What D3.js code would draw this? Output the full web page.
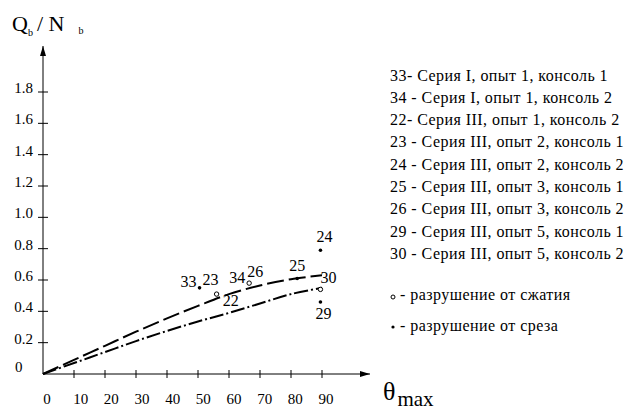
<!DOCTYPE html>
<html>
<head>
<meta charset="utf-8">
<script src="https://cdn.jsdelivr.net/npm/d3@7/dist/d3.min.js"></script>
<style>
  body { margin: 0; background: #fff; }
  svg { display: block; font-family: "Liberation Serif", "DejaVu Serif", serif; }
</style>
</head>
<body>
<script>
// data
var X_TICKS = [0, 10, 20, 30, 40, 50, 60, 70, 80, 90];
var Y_TICKS = [0.2, 0.4, 0.6, 0.8, 1.0, 1.2, 1.4, 1.6, 1.8];

// upper curve (long dash)
var UPPER_THETA = [0, 10, 20, 30, 40, 50, 60, 70, 80, 90];
var UPPER_VAL   = [0, 0.09, 0.18, 0.27, 0.355, 0.435, 0.51, 0.565, 0.605, 0.63];
// lower curve (dash-dot)
var LOWER_THETA = [0, 10, 20, 30, 40, 50, 60, 70, 80, 90];
var LOWER_VAL   = [0, 0.07, 0.14, 0.21, 0.275, 0.335, 0.39, 0.45, 0.51, 0.55];

// test points: id, theta, value, failure type
var PT_ID    = ["33", "23", "34", "25", "30", "29", "24"];
var PT_THETA = [50.5, 56, 66.5, 82, 89.5, 89.5, 89.5];
var PT_VAL   = [0.55, 0.51, 0.58, 0.61, 0.54, 0.46, 0.79];
var PT_TYPE  = ["shear", "comp", "comp", "shear", "comp", "shear", "shear"];

var LEGEND = [
  "33- Серия I, опыт 1, консоль 1",
  "34 - Серия I, опыт 1, консоль 2",
  "22- Серия III, опыт 1, консоль 2",
  "23 - Серия III, опыт 2, консоль 1",
  "24 - Серия III, опыт 2, консоль 2",
  "25 - Серия III, опыт 3, консоль 1",
  "26 - Серия III, опыт 3, консоль 2",
  "29 - Серия III, опыт 5, консоль 1",
  "30 - Серия III, опыт 5, консоль 2"
];
var MARK_LEGEND = ["- разрушение от сжатия", "- разрушение от среза"];

// label placement (pixels, relative to point)
var labelPos = {
  "33": [-3, -1, "end"], "23": [-14, -9, "start"], "34": [-4, 0, "end"],
  "25": [0, -7, "middle"], "30": [8, -6, "middle"], "29": [3, 17, "middle"],
  "24": [4, -8, "middle"]
};
// labels with no own marker
var FREE_LABELS = [["26", 66.5, 0.58, -2, -6], ["22", 58, 0.45, 0, 2]];

var W = 628, H = 411;
var x = d3.scaleLinear().domain([0, 90]).range([43, 322]);
var y = d3.scaleLinear().domain([0, 1.8]).range([374, 92]);

var svg = d3.select("body").append("svg").attr("width", W).attr("height", H);

var defs = svg.append("defs");
defs.append("marker").attr("id", "arr").attr("viewBox", "0 0 10 6")
  .attr("refX", 10).attr("refY", 3).attr("markerWidth", 14).attr("markerHeight", 6)
  .attr("markerUnits", "userSpaceOnUse").attr("orient", "auto")
  .append("path").attr("d", "M0,0 L10,3 L0,6 Z").attr("fill", "#000");

// axes
svg.append("line").attr("x1", x(0)).attr("y1", y(0)).attr("x2", x(0)).attr("y2", 46)
  .attr("stroke", "#000").attr("stroke-width", 1).attr("marker-end", "url(#arr)");
svg.append("line").attr("x1", x(0)).attr("y1", y(0)).attr("x2", 370).attr("y2", y(0))
  .attr("stroke", "#000").attr("stroke-width", 1).attr("marker-end", "url(#arr)");

// y ticks
var yt = svg.append("g").selectAll("g").data(Y_TICKS).enter().append("g");
yt.append("line").attr("x1", x(0) - 5).attr("x2", x(0) + 5)
  .attr("y1", d => y(d)).attr("y2", d => y(d)).attr("stroke", "#000");
yt.append("text").attr("x", 33).attr("y", d => y(d) - 4).attr("text-anchor", "end")
  .attr("dominant-baseline", "central").attr("font-size", 15)
  .text(d => d.toFixed(1));
svg.append("text").attr("x", 15).attr("y", 367).attr("dominant-baseline", "central")
  .attr("font-size", 15).text("0");

// x ticks
var xt = svg.append("g").selectAll("g").data(X_TICKS).enter().append("g");
xt.filter(d => d > 0).append("line").attr("x1", d => x(d)).attr("x2", d => x(d))
  .attr("y1", y(0) - 4).attr("y2", y(0) + 4).attr("stroke", "#000");
xt.append("text").attr("x", d => x(d) + 4 + (d > 0 ? 3 : 0) - d / 30)
  .attr("y", 399).attr("text-anchor", "middle").attr("dominant-baseline", "central")
  .attr("font-size", 15).text(d => d);

// axis titles
var t1 = svg.append("text").attr("x", 12).attr("y", 31).attr("font-size", 22);
t1.append("tspan").text("Q");
t1.append("tspan").attr("font-size", 10).attr("dy", 5).text("b");
t1.append("tspan").attr("dy", -5).attr("dx", 4).text("/ N");
t1.append("tspan").attr("font-size", 10).attr("dy", 3).attr("dx", 14).text("b");

var t2 = svg.append("text").attr("x", 383).attr("y", 400).attr("font-size", 26);
t2.append("tspan").text("θ");
t2.append("tspan").attr("font-size", 21).attr("dx", 2).attr("dy", 6).text("max");

// curves
var line = d3.line().x(d => x(d[0])).y(d => y(d[1])).curve(d3.curveCatmullRom);
svg.append("path").datum(d3.zip(UPPER_THETA, UPPER_VAL)).attr("d", line)
  .attr("fill", "none").attr("stroke", "#000").attr("stroke-width", 2)
  .attr("stroke-dasharray", "17,5");
svg.append("path").datum(d3.zip(LOWER_THETA, LOWER_VAL)).attr("d", line)
  .attr("fill", "none").attr("stroke", "#000").attr("stroke-width", 2)
  .attr("stroke-dasharray", "14,3,2,3");

// points
var pts = PT_ID.map((id, i) => ({id: id, t: PT_THETA[i], v: PT_VAL[i], type: PT_TYPE[i]}));
var pg = svg.append("g").selectAll("g").data(pts).enter().append("g");
pg.append("circle").attr("cx", d => x(d.t)).attr("cy", d => y(d.v))
  .attr("r", d => d.type === "shear" ? 1.8 : 2.2)
  .attr("fill", d => d.type === "shear" ? "#000" : "#fff")
  .attr("stroke", "#000").attr("stroke-width", d => d.type === "shear" ? 0 : 1);
pg.append("text")
  .attr("x", d => x(d.t) + labelPos[d.id][0])
  .attr("y", d => y(d.v) + labelPos[d.id][1])
  .attr("text-anchor", d => labelPos[d.id][2])
  .attr("font-size", 16).text(d => d.id);

svg.append("g").selectAll("text").data(FREE_LABELS).enter().append("text")
  .attr("x", d => x(d[1]) + d[3]).attr("y", d => y(d[2]) + d[4])
  .attr("font-size", 16).text(d => d[0]);

// legend
svg.append("g").selectAll("text").data(LEGEND).enter().append("text")
  .attr("x", 390).attr("y", (d, i) => 75 + i * 22.3)
  .attr("dominant-baseline", "central").attr("font-size", 16)
  .attr("letter-spacing", 0.45).text(d => d);

var lg = svg.append("g").selectAll("g").data(MARK_LEGEND).enter().append("g");
lg.append("circle").attr("cx", 393).attr("cy", (d, i) => 297 + i * 30)
  .attr("r", (d, i) => i === 0 ? 2 : 1.6)
  .attr("fill", (d, i) => i === 0 ? "#fff" : "#000").attr("stroke", "#000")
  .attr("stroke-width", (d, i) => i === 0 ? 1 : 0);
lg.append("text").attr("x", 400).attr("y", (d, i) => 294 + i * 31)
  .attr("dominant-baseline", "central").attr("font-size", 16)
  .attr("letter-spacing", 0.45).text(d => d);
</script>
</body>
</html>
